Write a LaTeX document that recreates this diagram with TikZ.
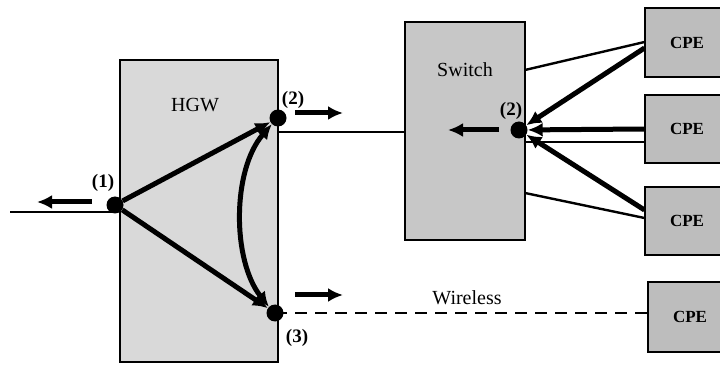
\documentclass[tikz,border=0pt]{standalone}
\usepackage{fontspec}
\setmainfont{Liberation Serif}
\usetikzlibrary{arrows.meta}
\definecolor{hgwgray}{gray}{0.85}
\definecolor{swgray}{gray}{0.78}
\definecolor{cpegray}{gray}{0.74}

\begin{document}
\begin{tikzpicture}[x=1pt, y=-1pt,
    box/.style={draw=black, line width=2pt, inner sep=0pt, outer sep=0pt},
    dot/.style={circle, fill=black, minimum size=17pt, inner sep=0pt},
    link/.style={line width=2.4pt},
    flow/.style={line width=5pt, -{Latex[length=15pt,width=14pt]}},
    lbl/.style={font=\fontsize{20}{20}\selectfont},
    num/.style={font=\bfseries\fontsize{19}{19}\selectfont},
    cpe/.style={box, fill=cpegray, minimum width=85pt, minimum height=69pt,
        font=\bfseries\fontsize{17}{17}\selectfont}]
    \clip (0,0) rectangle (720,371);
    % boxes
    \node[box, fill=hgwgray, minimum width=158pt, minimum height=302pt] (hgw) at (199,211) {};
    \node[box, fill=swgray, minimum width=120pt, minimum height=218pt] (sw) at (465,131) {};
    \node[cpe] (c1) at (687,42.5) {CPE\hspace{8pt}};
    \node[cpe, minimum height=68pt] (c2) at (687,129) {CPE\hspace{8pt}};
    \node[cpe, minimum height=68pt] (c3) at (687,221) {CPE\hspace{8pt}};
    \node[cpe, minimum height=70pt] (c4) at (690,317) {CPE\hspace{4pt}};
    % texts
    \node[lbl] (thgw) at (195,105) {HGW};
    \node[lbl] (tsw) at (465,70) {Switch};
    \node[lbl] (twl) at (467,298) {Wireless};
    % points
    \node[dot] (d1) at (115,205) {};
    \node[dot] (d2) at (278,118) {};
    \node[dot] (d3) at (275,313) {};
    \node[dot] (ds) at (519,130) {};
    \node[num] (n1) at (103,183) {(1)};
    \node[num] (n2) at (293,100) {(2)};
    \node[num] (n3) at (297,338) {(3)};
    \node[num] (ns) at (511,111) {(2)};
    % links
    \coordinate (lend) at (10,212);
    \draw[link] (lend) -- (lend -| d1);
    \draw[link] (hgw.east |- 0,132) -- (sw.west |- 0,132);
    \draw[link, dash pattern=on 12pt off 8pt] (d3.center) -- (c4.west |- d3);
    \draw[link] (sw.east |- 0,70) -- (c1.west |- 0,42);
    \draw[link] (sw.east |- 0,142) -- (c2.west |- 0,142);
    \draw[link] (sw.east |- 0,193) -- (c3.west |- 0,218);
    % flows
    \draw[flow] ([shift={(-23,-3)}]d1.center) -- ++(-55,0);
    \draw[flow] ([shift={(17,-5)}]d2.center) -- ++(48,0);
    \draw[flow] ([shift={(20,-18)}]d3.center) -- ++(48,0);
    \draw[flow] ([shift={(-20,0)}]ds.center) -- ++(-51,0);
    \draw[flow] (d1) -- (d2);
    \draw[flow] (d1) -- (d3);
    \draw[flow, {Latex[length=15pt,width=14pt]}-{Latex[length=15pt,width=14pt]}]
        (d3.north west) .. controls (232,260) and (232,170) .. (d2.south west);
    \draw[flow] (c1.west |- 0,48) -- (ds);
    \draw[flow] (c2.west |- 0,129) -- (ds);
    \draw[flow] (c3.west |- 0,210) -- (ds);
\end{tikzpicture}
\end{document}
